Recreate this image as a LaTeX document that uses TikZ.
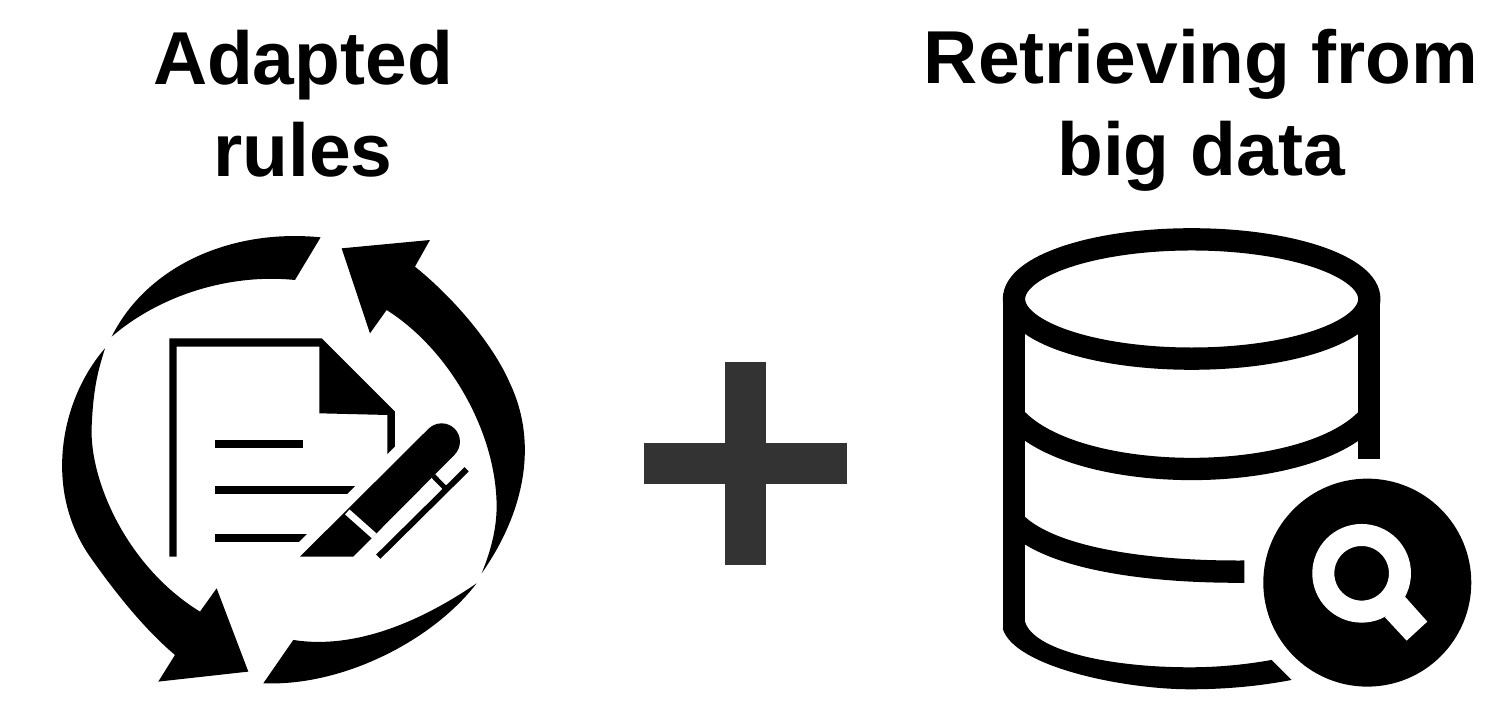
\documentclass[tikz,border=0pt]{standalone}
\usepackage{fontspec}
\setmainfont{Liberation Sans}
\usepackage{xcolor}
\usepackage{tikz}
\usetikzlibrary{positioning}
\definecolor{plusgray}{HTML}{333333}

\begin{document}
\begin{tikzpicture}[
  x=1pt,
  y=-1pt,
  headline/.style={
    align=center,
    inner sep=0pt,
    font=\fontsize{75}{92}\selectfont\bfseries
  },
  iconfill/.style={
    fill=black,
    draw=none
  },
  iconline/.style={
    draw=black,
    line cap=butt
  },
  cutline/.style={
    draw=white,
    line cap=butt
  }
]
\useasboundingbox (0,0) rectangle (1497,701);

\node[headline] (adapted) at (303,104) {Adapted\\rules};
\node[headline] (retrieving) at (1201,110) {Retrieving from\\big data};

% plus sign
\fill[plusgray] (725,362) rectangle (766,565);
\fill[plusgray] (644,443) rectangle (847,484);

% left icon
\begin{scope}[shift={(50,220)}, x=0.3333pt, y=-0.3333pt]
  \fill[iconfill] (185,350) .. controls (290,140) and (540,25) .. (812,52)
    -- (735,180) .. controls (540,160) and (330,225) .. (185,350) -- cycle;
  \fill[iconfill] (165,385) .. controls (30,540) and (-20,810) .. (120,1010) .. controls (190,1110) and (280,1225) .. (375,1305)
    -- (325,1385) -- (595,1355) -- (500,1105) -- (450,1175)
    .. controls (230,1040) and (118,780) .. (125,620) .. controls (130,500) and (145,450) .. (165,385) -- cycle;
  \fill[iconfill] (1280,1090) .. controls (1150,1260) and (880,1400) .. (640,1390)
    -- (730,1260) .. controls (920,1290) and (1120,1200) .. (1280,1090) -- cycle;
  \fill[iconfill] (1295,1060) .. controls (1415,890) and (1470,680) .. (1380,490) .. controls (1335,385) and (1225,245) .. (1095,140)
    -- (1140,60) -- (875,85) -- (960,340) -- (1010,270)
    .. controls (1200,390) and (1340,640) .. (1340,860) .. controls (1340,930) and (1320,1000) .. (1295,1060) -- cycle;
  % page
  \fill[iconfill] (358,1010) -- (358,355) -- (815,355) -- (1035,575) -- (1035,740) -- (1012,740) -- (1012,585)
    -- (808,580) -- (808,380) -- (380,380) -- (380,1010) -- cycle;
  \fill[iconfill] (495,660) rectangle (760,684);
  \fill[iconfill] (495,797) rectangle (930,822);
  \fill[iconfill] (495,941) rectangle (790,965);
  % pen
  \draw[cutline, line width=22pt] (750,1010) -- (1136,626);
  \fill[iconfill] (750,1010) -- (1136,626) -- (1214,704) -- (910,1010) -- cycle;
  \fill[iconfill] (1175,665) circle (55);
  \draw[cutline, line width=6.7pt] (892,876) -- (973,948);
  \draw[iconline, line width=6pt] (985,1010) -- (1250,748);
  \draw[iconline, line width=5pt] (1150,768) -- (1187,806);
\end{scope}

% right icon
\begin{scope}[shift={(990,220)}, x=0.3333pt, y=-0.3333pt]
  \draw[iconline, line width=22.3pt] (605,237) ellipse (533 and 179);
  \draw[iconline, line width=22.3pt] (72,237) -- (72,1225);
  \draw[iconline, line width=22.3pt] (1138,237) -- (1138,717);
  \draw[iconline, line width=22.3pt] (72,590) .. controls (170,700) and (400,747) .. (605,747) .. controls (810,747) and (1040,700) .. (1138,590);
  \draw[iconline, line width=22.3pt] (72,905) .. controls (170,1010) and (450,1057) .. (763,1055);
  \fill[iconfill] (38,1225) .. controls (70,1340) and (400,1408) .. (600,1408) .. controls (700,1408) and (800,1400) .. (905,1380)
    -- (845,1320) .. controls (760,1335) and (680,1342) .. (600,1342) .. controls (350,1342) and (130,1290) .. (105,1205) -- cycle;
  % lens badge
  \fill[iconfill] (1132,1088) circle (312);
  \draw[cutline, line width=22pt] (1115,1060) circle (115);
  \fill[white] (1245,1130) -- (1312,1205) -- (1250,1262) -- (1185,1192) -- cycle;
\end{scope}

\end{tikzpicture}
\end{document}
